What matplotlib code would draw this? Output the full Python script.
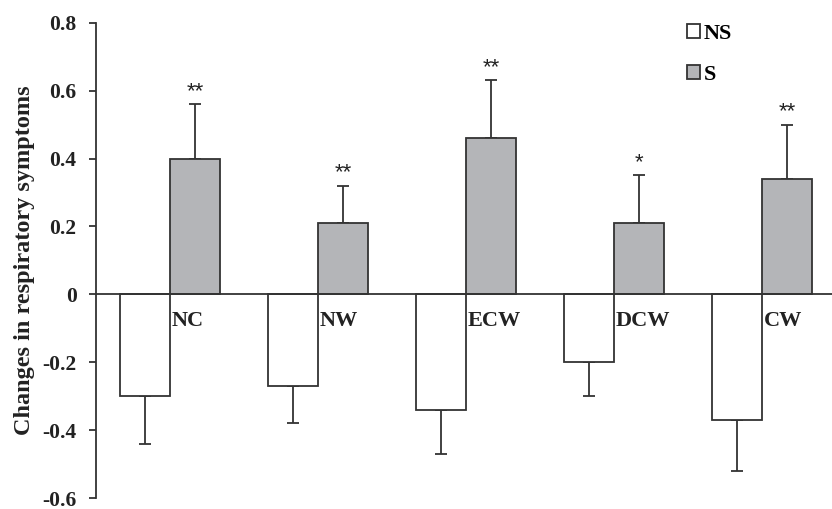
import matplotlib
matplotlib.use('Agg')
import matplotlib.pyplot as plt
import numpy as np

# data
categories = ['NC', 'NW', 'ECW', 'DCW', 'CW']
ns_values = [-0.30, -0.27, -0.34, -0.20, -0.37]
ns_errors = [0.14, 0.11, 0.13, 0.10, 0.15]
s_values = [0.40, 0.21, 0.46, 0.21, 0.34]
s_errors = [0.16, 0.11, 0.17, 0.14, 0.16]
s_marks = ['**', '**', '**', '*', '**']

plt.rcParams['font.family'] = ['Liberation Serif', 'DejaVu Serif']
plt.rcParams['font.weight'] = 'bold'

fig = plt.figure(figsize=(8.32, 5.09), dpi=100)
ax = fig.add_axes([96 / 832, 1 - 498 / 509, 1 - 96 / 832, (498 - 22.7) / 509])

x = np.arange(len(categories))
w = 50 / 148
edge = '#333333'
txt = '#222222'

ax.bar(x - w / 2, ns_values, w, color='white', edgecolor=edge, linewidth=1.3,
       label='NS', zorder=2)
ax.bar(x + w / 2, s_values, w, color='#b4b5b8', edgecolor=edge, linewidth=1.3,
       label='S', zorder=2)

# one-sided error bars
ax.errorbar(x - w / 2, ns_values, yerr=[ns_errors, [0] * len(x)], fmt='none',
            ecolor=edge, elinewidth=1.3, capsize=4, capthick=1.3, zorder=1)
ax.errorbar(x + w / 2, s_values, yerr=[[0] * len(x), s_errors], fmt='none',
            ecolor=edge, elinewidth=1.3, capsize=4, capthick=1.3, zorder=1)

# significance marks
for xi, v, e, m in zip(x, s_values, s_errors, s_marks):
    ax.text(xi + w / 2, v + e + 0.006, m, ha='center', va='bottom',
            fontsize=16, family='Liberation Sans', fontweight='normal', color=txt)

# category labels just under the zero line
for xi, c in zip(x, categories):
    ax.text(xi + 0.012, -0.05, c, ha='left', va='top', fontsize=16,
            fontweight='bold', color=txt)

ax.set_xlim(-0.5, -0.5 + (832 - 96) / 148)
ax.set_ylim(-0.6, 0.8)
ax.set_yticks(np.arange(-0.6, 0.81, 0.2))
ax.set_yticklabels(['-0.6', '-0.4', '-0.2', '0', '0.2', '0.4', '0.6', '0.8'])
ax.tick_params(axis='y', direction='out', length=5, width=1.3, color=edge,
               labelsize=15.5, pad=9, labelcolor=txt)
ax.set_xticks([])

ax.spines['top'].set_visible(False)
ax.spines['right'].set_visible(False)
ax.spines['left'].set_color(edge)
ax.spines['left'].set_linewidth(1.3)
ax.spines['bottom'].set_position(('data', 0))
ax.spines['bottom'].set_color(edge)
ax.spines['bottom'].set_linewidth(1.3)

fig.text(25 / 832, 1 - 260 / 509, 'Changes in respiratory symptoms', rotation=90,
         ha='center', va='center', fontsize=17.5, fontweight='bold', color=txt)

ax.legend(loc='upper left', bbox_to_anchor=(0.776, 1.04), frameon=False,
          handlelength=0.6, handleheight=0.6, handletextpad=0.15,
          labelspacing=0.95, prop={'size': 16, 'weight': 'bold'})

fig.savefig('out.png', dpi=100)
